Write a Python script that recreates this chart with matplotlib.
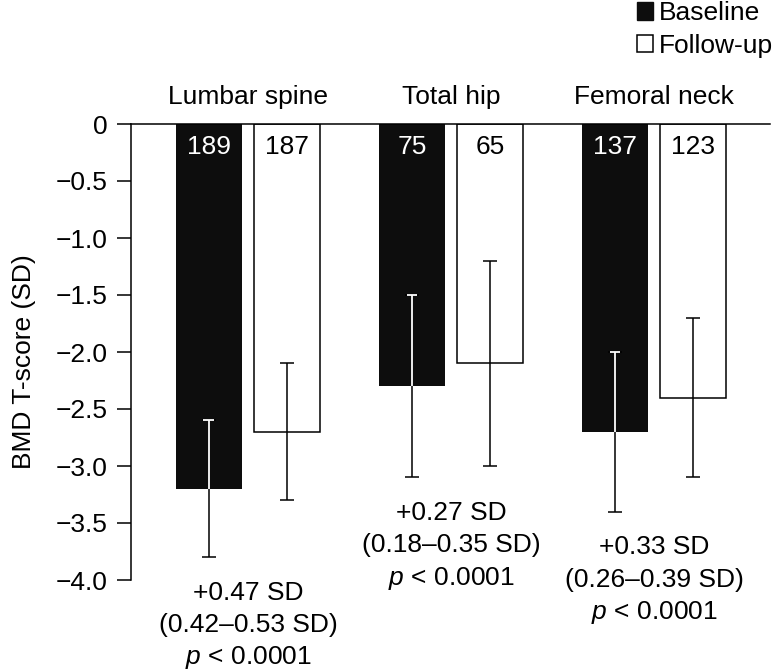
import numpy as np
import matplotlib.pyplot as plt
from matplotlib.patches import Patch

plt.rcParams['font.family'] = ['Liberation Sans', 'DejaVu Sans']
plt.rcParams['mathtext.fontset'] = 'custom'
plt.rcParams['mathtext.rm'] = 'Liberation Sans'
plt.rcParams['mathtext.it'] = 'Liberation Sans:italic'

# data
sites = ['Lumbar spine', 'Total hip', 'Femoral neck']
baseline = np.array([-3.2, -2.3, -2.7])
baseline_hi = np.array([-2.6, -1.5, -2.0])
baseline_lo = np.array([-3.8, -3.1, -3.4])
followup = np.array([-2.7, -2.1, -2.4])
followup_hi = np.array([-2.1, -1.2, -1.7])
followup_lo = np.array([-3.3, -3.0, -3.1])
n_baseline = [189, 75, 137]
n_followup = [187, 65, 123]
change = ['+0.47 SD', '+0.27 SD', '+0.33 SD']
change_ci = ['(0.42\u20130.53 SD)', '(0.18\u20130.35 SD)', '(0.26\u20130.39 SD)']
p_text = ['< 0.0001', '< 0.0001', '< 0.0001']
yticks = [0, -0.5, -1.0, -1.5, -2.0, -2.5, -3.0, -3.5, -4.0]

fs = 19
fig = plt.figure(figsize=(7.74, 6.71), dpi=100)
ax = fig.add_axes([131 / 774, 1 - 580 / 671, (770 - 131) / 774, (580 - 124) / 671])

x = np.arange(len(sites))
w = 0.325
off = 0.193
dark = '#0d0d0d'

ax.bar(x - off, baseline, w, color=dark, zorder=1)
ax.bar(x + off, followup, w, color='white', edgecolor='black', linewidth=1.1, zorder=1)

# error bars (black), then the part inside the dark bars redrawn in white
ax.errorbar(x - off, baseline, yerr=[baseline - baseline_lo, baseline_hi - baseline],
            fmt='none', ecolor='black', elinewidth=1.1, capsize=5, capthick=1.1, zorder=2)
ax.errorbar(x + off, followup, yerr=[followup - followup_lo, followup_hi - followup],
            fmt='none', ecolor='black', elinewidth=1.1, capsize=5, capthick=1.1, zorder=2)
cw = 0.026
ax.vlines(x - off, baseline, baseline_hi, color='white', lw=1.3, zorder=3)
ax.hlines(baseline_hi, x - off - cw, x - off + cw, color='white', lw=1.3, zorder=3)

for i in range(len(sites)):
    ax.text(x[i] - off, -0.2, str(n_baseline[i]), color='white', ha='center', va='center', fontsize=fs)
    ax.text(x[i] + off, -0.2, str(n_followup[i]), color='black', ha='center', va='center', fontsize=fs)
    ax.text(x[i], 0.24, sites[i], ha='center', va='center', fontsize=fs, clip_on=False)
    ylow = min(baseline_lo[i], followup_lo[i]) - 0.31
    lines = [change[i], change_ci[i], r'$p$ ' + p_text[i]]
    for k, s in enumerate(lines):
        ax.annotate(s, (x[i], ylow), xytext=(0, -23.5 * k), textcoords='offset points',
                    ha='center', va='center', fontsize=fs, annotation_clip=False)

ax.set_xlim(-0.576, 2.571)
ax.set_ylim(-4.0, 0)
ax.set_xticks([])
ax.set_yticks(yticks)
ax.set_yticklabels(['0' if v == 0 else ('%.1f' % v).replace('-', '\u2212') for v in yticks])
ax.tick_params(axis='y', length=10, width=1.1, pad=7, labelsize=fs)
ax.spines['right'].set_visible(False)
ax.spines['bottom'].set_visible(False)
ax.spines['left'].set_linewidth(1.1)
ax.spines['top'].set_linewidth(1.1)

fig.text(24 / 774, 1 - 362 / 671, 'BMD T-score (SD)', rotation=90, ha='center', va='center', fontsize=fs)

handles = [Patch(facecolor=dark, edgecolor=dark), Patch(facecolor='white', edgecolor='black', linewidth=1.1)]
fig.legend(handles, ['Baseline', 'Follow-up'], loc='upper right', bbox_to_anchor=(1.0, 1.0),
           frameon=False, fontsize=fs, handlelength=0.62, handleheight=0.62, handletextpad=0.2,
           labelspacing=0.32, borderaxespad=0, borderpad=0.05)

fig.savefig('out.png', dpi=100)
